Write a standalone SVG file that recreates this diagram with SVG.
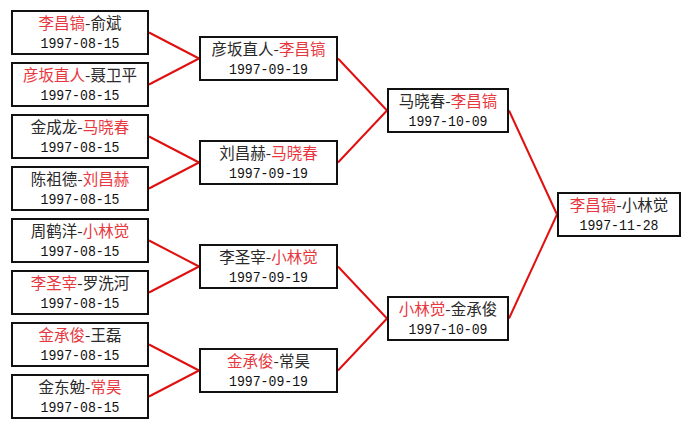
<svg xmlns="http://www.w3.org/2000/svg" width="691" height="429" viewBox="0 0 691 429">
<style>
.box{fill:#fff;stroke:#111;stroke-width:2}
.conn line{stroke:#e01010;stroke-width:2}
.n{font-family:"Noto Sans CJK SC","Liberation Sans",sans-serif;font-size:15.5px;fill:#2a2a2a;text-anchor:middle}
.r{fill:#e8383f}
.d{font-family:"Liberation Mono","Noto Sans CJK SC",monospace;font-size:15px;fill:#111;text-anchor:middle}
</style>
<rect width="691" height="429" fill="#fff"/>
<g id="connectors" class="conn">
<line x1="149" y1="32.5" x2="199" y2="58.5"/>
<line x1="149" y1="84.5" x2="199" y2="58.5"/>
<line x1="149" y1="136.5" x2="199" y2="162.5"/>
<line x1="149" y1="188.5" x2="199" y2="162.5"/>
<line x1="149" y1="240.5" x2="199" y2="266.5"/>
<line x1="149" y1="292.5" x2="199" y2="266.5"/>
<line x1="149" y1="344.5" x2="199" y2="370.5"/>
<line x1="149" y1="396.5" x2="199" y2="370.5"/>
<line x1="338" y1="58.5" x2="387" y2="110.5"/>
<line x1="338" y1="162.5" x2="387" y2="110.5"/>
<line x1="338" y1="266.5" x2="387" y2="318.5"/>
<line x1="338" y1="370.5" x2="387" y2="318.5"/>
<line x1="509" y1="110.5" x2="557" y2="214.5"/>
<line x1="509" y1="318.5" x2="557" y2="214.5"/>
</g>
<g id="l1"><rect class="box" x="12" y="11" width="136" height="43"/><text class="n" x="80" y="29"><tspan class="r">李昌镐</tspan>-俞斌</text><text class="d" x="80" y="48" textLength="79" lengthAdjust="spacingAndGlyphs">1997-08-15</text></g>
<g id="l2"><rect class="box" x="12" y="63" width="136" height="43"/><text class="n" x="80" y="81"><tspan class="r">彦坂直人</tspan>-聂卫平</text><text class="d" x="80" y="100" textLength="79" lengthAdjust="spacingAndGlyphs">1997-08-15</text></g>
<g id="l3"><rect class="box" x="12" y="115" width="136" height="43"/><text class="n" x="80" y="133">金成龙-<tspan class="r">马晓春</tspan></text><text class="d" x="80" y="152" textLength="79" lengthAdjust="spacingAndGlyphs">1997-08-15</text></g>
<g id="l4"><rect class="box" x="12" y="167" width="136" height="43"/><text class="n" x="80" y="185">陈祖德-<tspan class="r">刘昌赫</tspan></text><text class="d" x="80" y="204" textLength="79" lengthAdjust="spacingAndGlyphs">1997-08-15</text></g>
<g id="l5"><rect class="box" x="12" y="219" width="136" height="43"/><text class="n" x="80" y="237">周鹤洋-<tspan class="r">小林觉</tspan></text><text class="d" x="80" y="256" textLength="79" lengthAdjust="spacingAndGlyphs">1997-08-15</text></g>
<g id="l6"><rect class="box" x="12" y="271" width="136" height="43"/><text class="n" x="80" y="289"><tspan class="r">李圣宰</tspan>-罗洗河</text><text class="d" x="80" y="308" textLength="79" lengthAdjust="spacingAndGlyphs">1997-08-15</text></g>
<g id="l7"><rect class="box" x="12" y="323" width="136" height="43"/><text class="n" x="80" y="341"><tspan class="r">金承俊</tspan>-王磊</text><text class="d" x="80" y="360" textLength="79" lengthAdjust="spacingAndGlyphs">1997-08-15</text></g>
<g id="l8"><rect class="box" x="12" y="375" width="136" height="43"/><text class="n" x="80" y="393">金东勉-<tspan class="r">常昊</tspan></text><text class="d" x="80" y="412" textLength="79" lengthAdjust="spacingAndGlyphs">1997-08-15</text></g>
<g id="r2a"><rect class="box" x="200" y="37" width="137" height="43"/><text class="n" x="268.5" y="55">彦坂直人-<tspan class="r">李昌镐</tspan></text><text class="d" x="268.5" y="74" textLength="79" lengthAdjust="spacingAndGlyphs">1997-09-19</text></g>
<g id="r2b"><rect class="box" x="200" y="141" width="137" height="43"/><text class="n" x="268.5" y="159">刘昌赫-<tspan class="r">马晓春</tspan></text><text class="d" x="268.5" y="178" textLength="79" lengthAdjust="spacingAndGlyphs">1997-09-19</text></g>
<g id="r2c"><rect class="box" x="200" y="245" width="137" height="43"/><text class="n" x="268.5" y="263">李圣宰-<tspan class="r">小林觉</tspan></text><text class="d" x="268.5" y="282" textLength="79" lengthAdjust="spacingAndGlyphs">1997-09-19</text></g>
<g id="r2d"><rect class="box" x="200" y="349" width="137" height="43"/><text class="n" x="268.5" y="367"><tspan class="r">金承俊</tspan>-常昊</text><text class="d" x="268.5" y="386" textLength="79" lengthAdjust="spacingAndGlyphs">1997-09-19</text></g>
<g id="r3a"><rect class="box" x="388" y="89" width="120" height="43"/><text class="n" x="448" y="107">马晓春-<tspan class="r">李昌镐</tspan></text><text class="d" x="448" y="126" textLength="79" lengthAdjust="spacingAndGlyphs">1997-10-09</text></g>
<g id="r3b"><rect class="box" x="388" y="297" width="120" height="43"/><text class="n" x="448" y="315"><tspan class="r">小林觉</tspan>-金承俊</text><text class="d" x="448" y="334" textLength="79" lengthAdjust="spacingAndGlyphs">1997-10-09</text></g>
<g id="final"><rect class="box" x="558" y="193" width="122" height="43"/><text class="n" x="619" y="211"><tspan class="r">李昌镐</tspan>-小林觉</text><text class="d" x="619" y="230" textLength="79" lengthAdjust="spacingAndGlyphs">1997-11-28</text></g>
</svg>
